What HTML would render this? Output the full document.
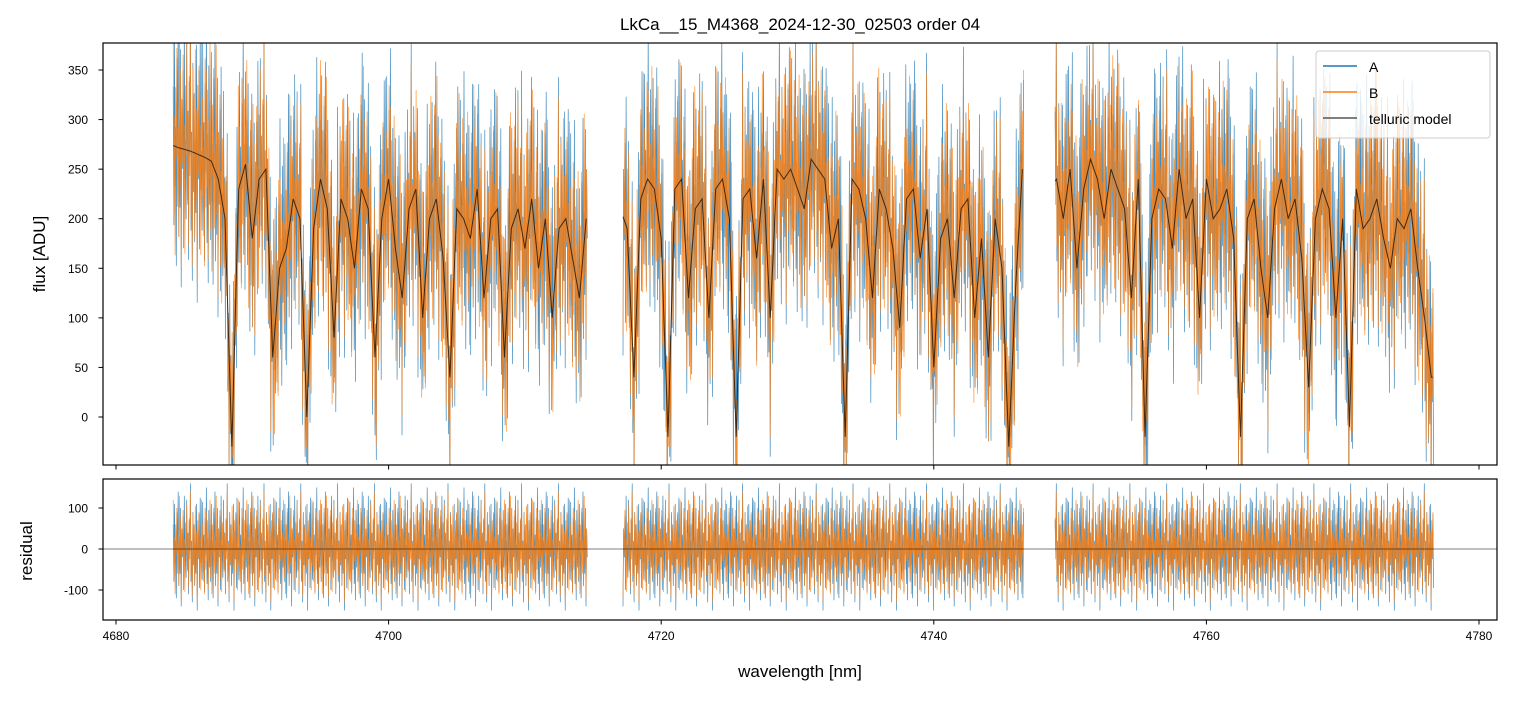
<!DOCTYPE html>
<html><head><meta charset="utf-8"><style>
body{margin:0;background:#fff;}
svg{font-family:"Liberation Sans","DejaVu Sans",sans-serif;}
</style></head><body>
<svg id="fig" width="1514" height="696" viewBox="0 0 1514 696">
<defs>
<clipPath id="ct"><rect x="103" y="43" width="1394" height="422"/></clipPath>
<clipPath id="cb"><rect x="103" y="479" width="1394" height="141"/></clipPath>
</defs>
<rect width="1514" height="696" fill="#fff"/>
<text x="800" y="30" font-size="17" text-anchor="middle">LkCa__15_M4368_2024-12-30_02503  order 04</text>
<g id="gtop" clip-path="url(#ct)"></g>
<g id="gbot" clip-path="url(#cb)"></g>
<rect x="103" y="43" width="1394" height="422" fill="none" stroke="#000" stroke-width="1.2"/>
<rect x="103" y="479" width="1394" height="141" fill="none" stroke="#000" stroke-width="1.2"/>
<g id="axes"></g>
<text x="800" y="677" font-size="17" text-anchor="middle">wavelength [nm]</text>
<text transform="translate(45,254) rotate(-90)" font-size="17" text-anchor="middle">flux [ADU]</text>
<text transform="translate(32,551) rotate(-90)" font-size="17" text-anchor="middle">residual</text>
<g>
<rect x="1316" y="51" width="174" height="87" rx="3" fill="#fff" fill-opacity="0.8" stroke="#ccc"/>
<line x1="1323" y1="66" x2="1357" y2="66" stroke="#1f77b4" stroke-width="1.5"/>
<text x="1369" y="72" font-size="14">A</text>
<line x1="1323" y1="92" x2="1357" y2="92" stroke="#ff7f0e" stroke-width="1.5"/>
<text x="1369" y="98" font-size="14">B</text>
<line x1="1323" y1="118" x2="1357" y2="118" stroke="#555" stroke-width="1.5"/>
<text x="1369" y="124" font-size="14">telluric model</text>
</g>
</svg>
<script>
const seg1Start=4684.0, seg2Start=4717.0, seg3Start=4748.5, modelStep=0.5;
const seg1Ends=[4684.2,4714.6], seg2Ends=[4717.2,4746.6], seg3Ends=[4748.9,4776.7];
const model1=[275,272,270,268,265,262,258,240,200,-30,230,255,180,240,250,60,150,170,220,200,0,190,240,210,80,220,200,150,230,210,60,200,240,170,120,210,230,100,200,220,160,40,210,200,180,230,120,200,210,60,190,210,170,220,150,200,100,190,200,160,120,200];
const model2=[210,190,40,220,240,230,180,-20,230,240,120,210,220,100,230,240,200,-20,220,230,160,240,100,250,240,250,230,210,260,250,240,170,200,-20,240,230,200,120,230,210,170,90,220,230,160,210,50,180,200,120,210,220,100,180,60,200,150,-30,130,250];
const model3=[230,240,200,250,150,230,260,240,200,250,230,210,120,240,-20,200,230,220,170,250,200,220,100,240,200,210,230,180,-20,200,220,150,100,210,240,200,220,160,30,200,230,210,100,200,-10,230,190,200,220,180,150,200,190,210,150,100,40];
const residA=[60,-80,110,-40,20,-120,90,-10,140,-90,30,-60,100,-140,50,-20,80,-100,130,-30,10,-70,120,-50,40,-110,70,-5,160,-80,20,-130,90,-40,60,-90,15,-60,110,-150,45,-25,85,-95,125,-35,5,-75,115,-55,35,-105,75,-15,150,-85,25,-125,95,-45];
const residB=[-50,90,-30,70,-100,40,-20,120,-70,30,-110,60,-10,100,-60,20,-90,130,-40,80,-120,50,-15,95,-75,25,-105,65,-5,110,-55,35,-95,75,-25,140,-65,15,-115,85,-35,55,-85,105,-45,45,-130,70,-20,90,-60,30,-100,120,-40,60,-80,10,-110,100];
const xTicks=[4680,4700,4720,4740,4760,4780];
const yTicksTop=[0,50,100,150,200,250,300,350];
const yTicksBot=[-100,0,100];
const NS="http://www.w3.org/2000/svg";
const X=w=>116+(w-4680)*13.63;
const YT=v=>417-v*0.9914;
const YB=v=>549-v*0.41;
function mk(tag,attrs,parent){const e=document.createElementNS(NS,tag);for(const k in attrs)e.setAttribute(k,attrs[k]);parent.appendChild(e);return e;}
const segs=[[model1,seg1Start,seg1Ends],[model2,seg2Start,seg2Ends],[model3,seg3Start,seg3Ends]];
const gTop=document.getElementById('gtop'),gBot=document.getElementById('gbot'),gAxes=document.getElementById('axes');
function mval(m,s,w){const f=(w-s)/modelStep;const i=Math.max(0,Math.min(m.length-2,Math.floor(f)));const t=Math.min(1,Math.max(0,f-i));return m[i]*(1-t)+m[i+1]*t;}
const series=[[residA,'#1f77b4',0],[residB,'#ff7f0e',7]];
series.forEach(([res,col,off])=>{
  segs.forEach(([m,s,e],si)=>{
    let pt=[],pb=[];let j=off+si*13;
    for(let w=e[0];w<=e[1];w+=0.045){const r=res[j%res.length];j++;
      pt.push(X(w).toFixed(1)+','+YT(mval(m,s,w)+r).toFixed(1));
      pb.push(X(w).toFixed(1)+','+YB(r).toFixed(1));}
    const a=mk('polyline',{points:pt.join(' '),fill:'none',stroke:col,'stroke-width':0.7,'stroke-opacity':0.85},gTop);
    
    
    const b=mk('polyline',{points:pb.join(' '),fill:'none',stroke:col,'stroke-width':0.7,'stroke-opacity':0.85},gBot);
    
    
  });
});
segs.forEach(([m,s,e])=>{
  let p=[];for(let w=e[0];w<=e[1];w+=0.1)p.push(X(w).toFixed(1)+','+YT(mval(m,s,w)).toFixed(1));
  const l=mk('polyline',{points:p.join(' '),fill:'none',stroke:'#000','stroke-width':1,'stroke-opacity':0.7},gTop);
  
  
});
const z=mk('line',{x1:103,x2:1497,y1:YB(0),y2:YB(0),stroke:'#000','stroke-width':0.5},gBot);


xTicks.forEach(v=>{
  mk('line',{x1:X(v),x2:X(v),y1:465,y2:469.5,stroke:'#000'},gAxes);
  mk('line',{x1:X(v),x2:X(v),y1:620,y2:624.5,stroke:'#000'},gAxes);
  const t=mk('text',{x:X(v),y:640,'font-size':12,'text-anchor':'middle'},gAxes);t.textContent=v;
  
  
});
yTicksTop.forEach(v=>{
  mk('line',{x1:98.5,x2:103,y1:YT(v),y2:YT(v),stroke:'#000'},gAxes);
  const t=mk('text',{x:88,y:YT(v)+4.5,'font-size':12,'text-anchor':'end'},gAxes);t.textContent=v;
  
  
});
yTicksBot.forEach(v=>{
  mk('line',{x1:98.5,x2:103,y1:YB(v),y2:YB(v),stroke:'#000'},gAxes);
  const t=mk('text',{x:88,y:YB(v)+4.5,'font-size':12,'text-anchor':'end'},gAxes);t.textContent=v;
  
  
});
</script>
</body></html>
